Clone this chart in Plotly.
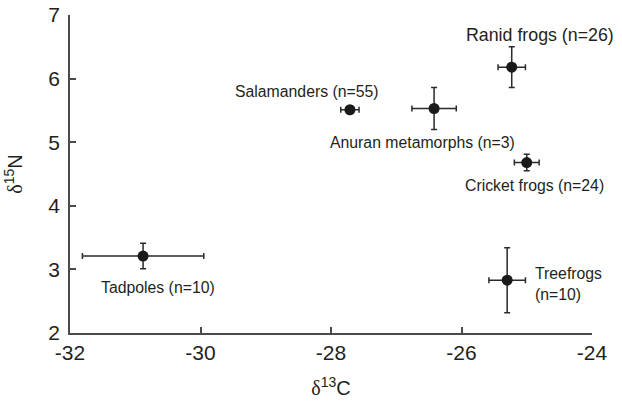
import plotly.graph_objects as go

groups = ["Tadpoles (n=10)", "Salamanders (n=55)", "Anuran metamorphs (n=3)",
          "Ranid frogs (n=26)", "Cricket frogs (n=24)", "Treefrogs<br>(n=10)"]
d13c = [-30.88, -27.71, -26.42, -25.23, -25.00, -25.30]
d13c_err = [0.93, 0.14, 0.34, 0.21, 0.19, 0.28]
d15n = [3.21, 5.51, 5.53, 6.18, 4.68, 2.83]
d15n_err = [0.20, 0.05, 0.33, 0.32, 0.13, 0.51]

x_ticks = [-32, -30, -28, -26, -24]
y_ticks = [2, 3, 4, 5, 6, 7]

AX = "#4a4a4a"
TXT = "#231f20"
FONT = "Liberation Sans, Arial, Helvetica, sans-serif"

fig = go.Figure()
fig.add_trace(go.Scatter(
    x=d13c, y=d15n, mode="markers",
    marker=dict(size=11, color="#1a1a1a"),
    error_x=dict(type="data", array=d13c_err, color="#2a2a2a", thickness=1.5, width=3),
    error_y=dict(type="data", array=d15n_err, color="#2a2a2a", thickness=1.5, width=3),
    showlegend=False, cliponaxis=False,
))

# label placement (pixel offsets from each point), font sizes
offsets = [
    dict(xshift=15, yshift=-31, xanchor="center", size=15.8),
    dict(xshift=-43, yshift=18, xanchor="center", size=15.8),
    dict(xshift=-12, yshift=-34, xanchor="center", size=15.8),
    dict(xshift=28, yshift=32, xanchor="center", size=17.8),
    dict(xshift=8, yshift=-23, xanchor="center", size=15.8),
    dict(xshift=26, yshift=-4, xanchor="left", size=15.8),
]
for g, x, y, o in zip(groups, d13c, d15n, offsets):
    fig.add_annotation(x=x, y=y, text=g, showarrow=False,
                       xshift=o["xshift"], yshift=o["yshift"], xanchor=o["xanchor"],
                       yanchor="middle", align="left",
                       font=dict(family=FONT, size=o["size"], color=TXT))

delta = '<span style="font-family:Liberation Serif, Times New Roman, serif">δ</span>'
fig.update_layout(
    width=622, height=404,
    margin=dict(l=70, r=30, t=15, b=71, autoexpand=False),
    paper_bgcolor="white", plot_bgcolor="white",
    font=dict(family=FONT, color=TXT, size=20),
    xaxis=dict(range=[-32, -24], tickvals=x_ticks, ticktext=[str(v) for v in x_ticks],
               showgrid=False, zeroline=False, showline=True, linecolor=AX, linewidth=1.5,
               ticks="inside", ticklen=6, tickwidth=1.5, tickcolor=AX, automargin=False,
               tickfont=dict(size=21, color=TXT), ticklabelstandoff=0,
               title=dict(text=delta + "<sup>13</sup>C", font=dict(size=20, color=TXT), standoff=18)),
    yaxis=dict(range=[2, 7], tickvals=y_ticks, ticktext=[str(v) for v in y_ticks],
               showgrid=False, zeroline=False, showline=True, linecolor=AX, linewidth=1.5,
               ticks="inside", ticklen=6, tickwidth=1.5, tickcolor=AX, automargin=False,
               tickfont=dict(size=21, color=TXT), ticklabelstandoff=4,
               title=dict(text=delta + "<sup>15</sup>N", font=dict(size=20, color=TXT), standoff=20)),
)

fig.write_html("out.html")
